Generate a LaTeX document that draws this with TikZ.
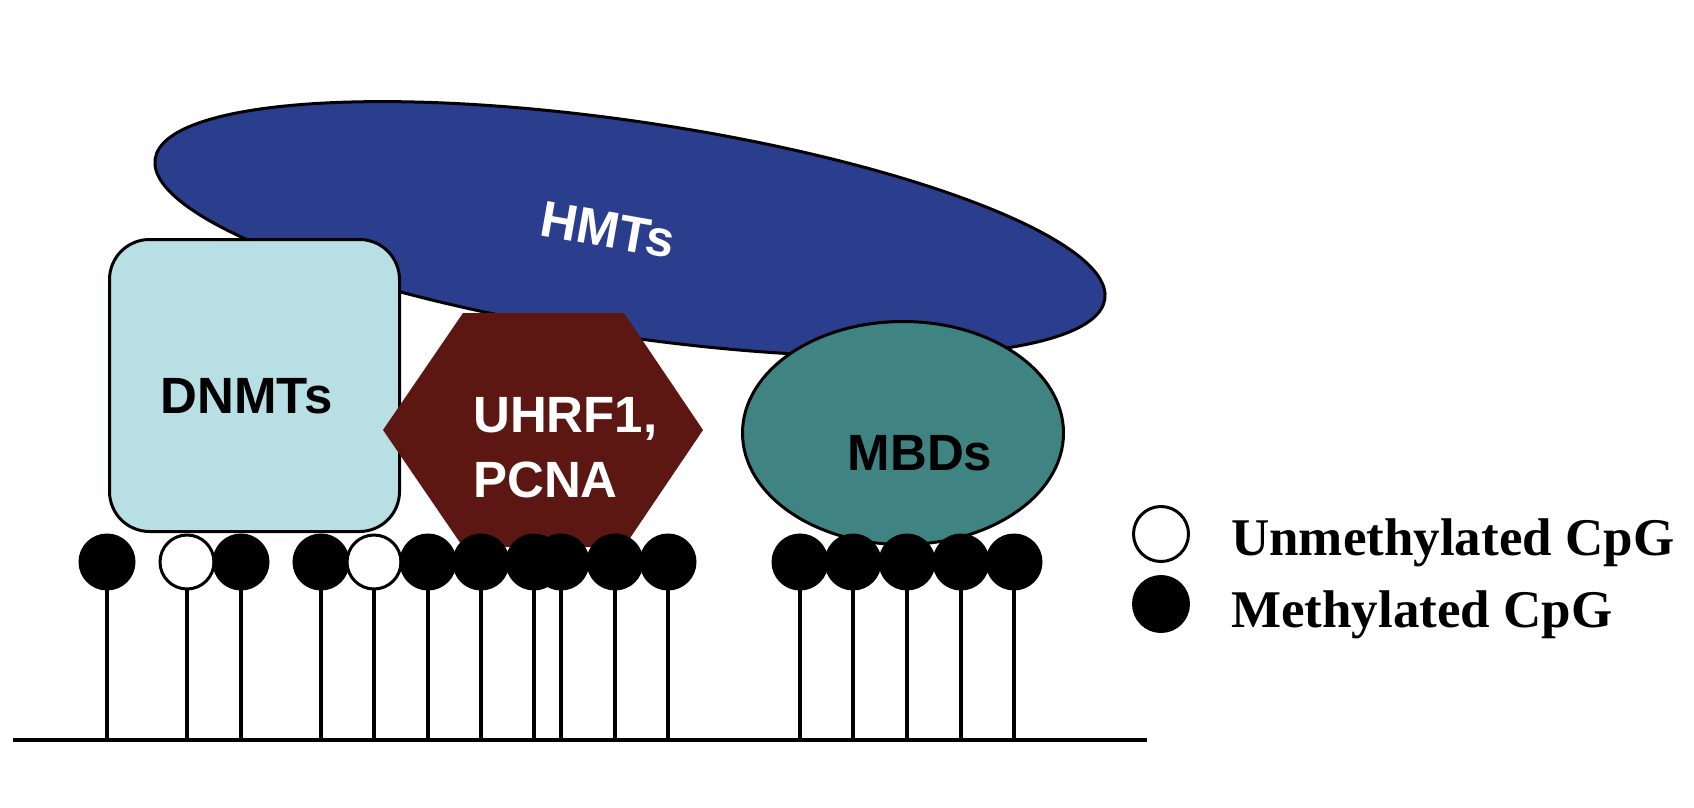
\documentclass[tikz,border=0pt]{standalone}
\usepackage{fontspec}
\setmainfont{Liberation Sans}
\newfontfamily\serifb{Liberation Serif}
\usetikzlibrary{shapes.geometric}
\definecolor{hmtblue}{RGB}{43,62,142}
\definecolor{dnmtcyan}{RGB}{184,223,227}
\definecolor{uhrfred}{RGB}{92,23,18}
\definecolor{mbdteal}{RGB}{63,132,130}
\tikzset{
 outl/.style={draw=black, line width=3pt},
 hmtshape/.style={ellipse, outl, fill=hmtblue, minimum width=960pt, minimum height=215pt, inner sep=0pt, rotate=-8.4},
 dnmtshape/.style={rectangle, rounded corners=40pt, outl, fill=dnmtcyan, minimum width=290pt, minimum height=292pt, inner sep=0pt},
 mbdshape/.style={ellipse, outl, fill=mbdteal, minimum width=321pt, minimum height=223pt, inner sep=0pt},
 lbl/.style={font=\fontsize{51}{62}\selectfont\bfseries, inner sep=0pt},
 legtext/.style={font=\serifb\fontsize{53}{62}\selectfont\bfseries, inner sep=0pt, anchor=base west},
 cpg/.style={circle, draw=black, line width=3pt, minimum size=54pt, inner sep=0pt},
 meth/.style={cpg, fill=black},
 unmeth/.style={cpg, fill=white},
 stemline/.style={line width=3.5pt},
}
\begin{document}
\begin{tikzpicture}[x=1pt,y=-1pt]
\useasboundingbox (0,0) rectangle (1694,808);
% HMTs
\node[hmtshape] (hmts) at (630,229) {};
\node[lbl, text=white, rotate=-10] (hmtlabel) at (608,230) {HMTs};
% DNMTs
\node[dnmtshape] (dnmts) at (254.5,385.5) {};
\node[lbl, anchor=base] (dnmtlabel) at (246.5,413) {DNMTs};
% UHRF1, PCNA hexagon
\coordinate (hxL) at (383,430);
\coordinate (hxTL) at (463,313);
\coordinate (hxTR) at (624,313);
\coordinate (hxR) at (703,430);
\coordinate (hxBR) at (624,547);
\coordinate (hxBL) at (463,547);
\fill[uhrfred] (hxL) -- (hxTL) -- (hxTR) -- (hxR) -- (hxBR) -- (hxBL) -- cycle;
\node[lbl, text=white, anchor=base west] (uhrf) at (473,432) {UHRF1,};
\node[lbl, text=white, anchor=base west] (pcna) at (473,497) {PCNA};
% MBDs
\node[mbdshape] (mbds) at (903,433) {};
\node[lbl, anchor=base] (mbdlabel) at (920,470) {MBDs};
% DNA line and stems
\coordinate (dnaL) at (13,740);
\coordinate (dnaR) at (1147,740);
\foreach \x [count=\i] in {107,187,241,321,374,428,481,534,561,615,668,800,853,907,961,1014}{
  \coordinate (top\i) at (\x,562);
  \coordinate (bot\i) at (\x,740);
  \draw[stemline] (top\i) -- (bot\i);
}
\draw[stemline] (dnaL) -- (dnaR);
\foreach \t [count=\i] in {meth,unmeth,meth,meth,unmeth,meth,meth,meth,meth,meth,meth,meth,meth,meth,meth,meth}{
  \node[\t] (c\i) at (top\i) {};
}
% legend
\node[unmeth, minimum size=55pt] (legU) at (1161,534) {};
\node[meth, minimum size=55pt] (legM) at (1161,604) {};
\node[legtext] (legUtext) at (1231,555) {Unmethylated CpG};
\node[legtext] (legMtext) at (1231,627) {Methylated CpG};
\end{tikzpicture}
\end{document}
